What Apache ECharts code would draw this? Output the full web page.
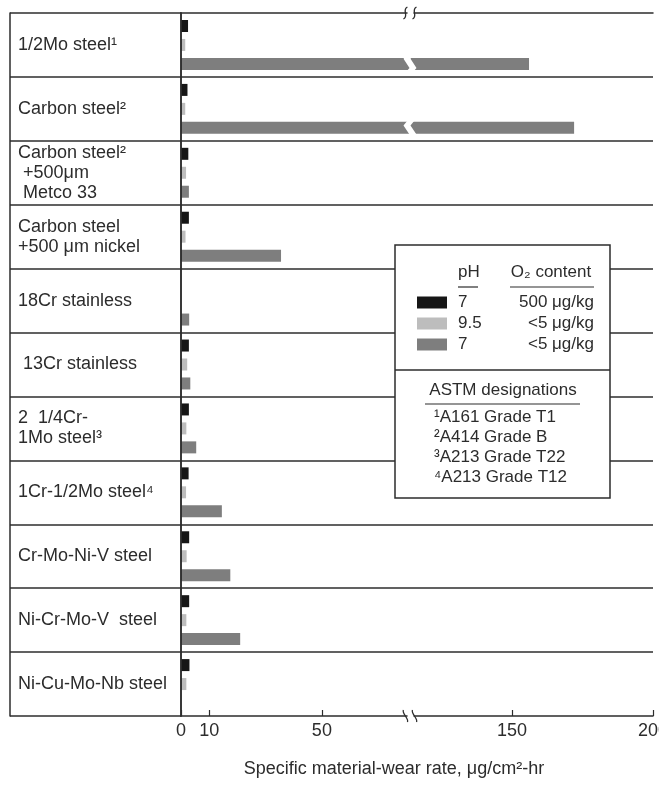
<!DOCTYPE html>
<html>
<head>
<meta charset="utf-8">
<script src="https://cdn.jsdelivr.net/npm/echarts@6/dist/echarts.min.js"></script>
<style>
  html, body { margin: 0; padding: 0; background: #ffffff; }
  #chart { width: 659px; height: 785px; }
</style>
</head>
<body>
<div id="chart"></div>
<script>
// Materials, top to bottom
const materials = [
  '1/2Mo steel¹',
  'Carbon steel²',
  'Carbon steel²\n +500μm\n Metco 33',
  'Carbon steel\n+500 μm nickel',
  '18Cr stainless',
  ' 13Cr stainless',
  '2  1/4Cr-\n1Mo steel³',
  '1Cr-1/2Mo steel⁴',
  'Cr-Mo-Ni-V steel',
  'Ni-Cr-Mo-V  steel',
  'Ni-Cu-Mo-Nb steel'
];

// Specific material-wear rate, μg/cm²-hr
const wearPh7HighO2 = [2.5, 2.3, 2.6, 2.8, null, 2.8, 2.8, 2.7, 2.9, 2.9, 3.0];
const wearPh95LowO2 = [1.5, 1.5, 1.8, 1.6, null, 2.2, 1.9, 1.8, 2.0, 1.9, 1.9];
const wearPh7LowO2  = [156, 172, 2.8, 35.5, 2.9, 3.3, 5.4, 14.5, 17.5, 21, null];

const seriesNames = ['pH 7, 500 μg/kg O₂', 'pH 9.5, <5 μg/kg O₂', 'pH 7, <5 μg/kg O₂'];
const phLevels = ['7', '9.5', '7'];
const o2Levels = ['500 μg/kg', '<5 μg/kg', '<5 μg/kg'];
const xTickValues = [0, 10, 50, 150, 200];
const astmNotes = ['¹A161 Grade T1', '²A414 Grade B', '³A213 Grade T22', '⁴A213 Grade T12'];

const INK = '#2c2c2c';
const FONT = '"Liberation Sans", Arial, Helvetica, sans-serif';
const barColors = ['#161616', '#bdbdbd', '#7e7e7e'];
const axisBreak = { start: 80, end: 115, gap: '1.5%' };

const chart = echarts.init(document.getElementById('chart'), null, { renderer: 'canvas' });

const barSeries = [wearPh7HighO2, wearPh95LowO2, wearPh7LowO2].map((values, i) => ({
  name: seriesNames[i],
  type: 'bar',
  xAxisIndex: 1,
  yAxisIndex: 1,
  data: values,
  barWidth: 12,
  barGap: '58%',
  barCategoryGap: '22%',
  itemStyle: { color: barColors[i] },
  emphasis: { disabled: true },
  z: 2
}));

// Legend panel: framed box with column heads and ASTM footnotes
const panelGraphics = [
  {
    type: 'rect', z: 10,
    shape: { x: 395, y: 245, width: 215, height: 253 },
    style: { fill: '#ffffff', stroke: INK, lineWidth: 1.5 }
  },
  { type: 'line', z: 11, shape: { x1: 395, y1: 370, x2: 610, y2: 370 }, style: { stroke: INK, lineWidth: 1.5 } },
  { type: 'text', z: 11, x: 458, y: 272, style: { text: 'pH', font: '17px ' + FONT, fill: INK, verticalAlign: 'middle' } },
  { type: 'line', z: 11, shape: { x1: 458, y1: 287, x2: 478, y2: 287 }, style: { stroke: INK, lineWidth: 1.2 } },
  { type: 'text', z: 11, x: 551, y: 272, style: { text: 'O₂ content', font: '17px ' + FONT, fill: INK, align: 'center', verticalAlign: 'middle' } },
  { type: 'line', z: 11, shape: { x1: 510, y1: 287, x2: 594, y2: 287 }, style: { stroke: INK, lineWidth: 1.2 } },
  { type: 'text', z: 11, x: 503, y: 390, style: { text: 'ASTM designations', font: '17px ' + FONT, fill: INK, align: 'center', verticalAlign: 'middle' } },
  { type: 'line', z: 11, shape: { x1: 425, y1: 404, x2: 580, y2: 404 }, style: { stroke: INK, lineWidth: 1.2 } }
].concat(astmNotes.map((t, i) => ({
  type: 'text', z: 11, x: 434, y: 417 + i * 20,
  style: { text: t, font: '17px ' + FONT, fill: INK, verticalAlign: 'middle' }
})));

chart.setOption({
  animation: false,
  backgroundColor: '#ffffff',
  textStyle: { fontFamily: FONT, color: INK },
  grid: [
    { left: 10, width: 171, top: 13, bottom: 69, show: false, containLabel: false, outerBoundsMode: 'none' },
    { left: 181, right: 6, top: 13, bottom: 69, show: false, containLabel: false, outerBoundsMode: 'none' }
  ],
  xAxis: [
    { gridIndex: 0, type: 'value', min: 0, max: 1, show: false },
    {
      gridIndex: 1,
      type: 'value',
      min: 0,
      max: 200,
      z: 3,
      breaks: [axisBreak],
      breakArea: {
        show: true,
        expandOnClick: false,
        zigzagAmplitude: 3,
        zigzagMinSpan: 6,
        zigzagMaxSpan: 10,
        zigzagZ: 3,
        itemStyle: { color: '#ffffff', borderColor: '#ffffff', borderWidth: 0, opacity: 1 }
      },
      axisLine: { show: true, lineStyle: { color: INK, width: 1.5 } },
      axisTick: { show: true, inside: true, length: 6, customValues: xTickValues, lineStyle: { color: INK, width: 1.2 } },
      axisLabel: { customValues: xTickValues, fontSize: 18, color: INK, margin: 6, fontFamily: FONT },
      splitLine: { show: false },
      name: 'Specific material-wear rate, μg/cm²-hr',
      nameLocation: 'middle',
      nameGap: 44,
      nameTextStyle: { fontSize: 18, color: INK, fontFamily: FONT, padding: [0, 46, 0, 0] }
    },
    {
      gridIndex: 1,
      type: 'value',
      position: 'top',
      min: 0,
      max: 200,
      z: 3,
      breaks: [axisBreak],
      breakArea: { show: false },
      axisLine: { show: true, lineStyle: { color: INK, width: 1.5 } },
      axisTick: { show: false },
      axisLabel: { show: false },
      splitLine: { show: false }
    }
  ],
  yAxis: [
    {
      gridIndex: 0,
      type: 'category',
      data: materials,
      inverse: true,
      z: 4,
      axisLine: { show: true, lineStyle: { color: INK, width: 1.5 } },
      axisTick: { show: false },
      axisLabel: {
        inside: true,
        align: 'left',
        margin: 8,
        fontSize: 18,
        lineHeight: 20,
        color: INK,
        fontFamily: FONT
      },
      splitLine: { show: true, lineStyle: { color: INK, width: 1.5 } }
    },
    {
      gridIndex: 1,
      type: 'category',
      data: materials,
      inverse: true,
      z: 5,
      axisLine: { show: true, lineStyle: { color: INK, width: 1.5 } },
      axisTick: { show: false },
      axisLabel: { show: false },
      splitLine: { show: true, showMinLine: false, showMaxLine: false, lineStyle: { color: INK, width: 1.5 } }
    },
    {
      gridIndex: 1,
      type: 'category',
      data: materials,
      inverse: true,
      position: 'right',
      z: 4,
      axisLine: { show: true, lineStyle: { color: INK, width: 1.5 } },
      axisTick: { show: false },
      axisLabel: { show: false },
      splitLine: { show: false }
    }
  ],
  legend: {
    left: 417,
    top: 294,
    padding: 0,
    orient: 'vertical',
    icon: 'rect',
    itemWidth: 30,
    itemHeight: 12,
    itemGap: 4,
    selectedMode: false,
    z: 12,
    data: seriesNames,
    formatter: name => {
      const i = seriesNames.indexOf(name);
      return '{p|' + phLevels[i] + '}{o|' + o2Levels[i] + '}';
    },
    textStyle: {
      fontFamily: FONT,
      color: INK,
      rich: {
        p: { width: 38, padding: [0, 0, 0, 6], fontSize: 17, lineHeight: 20, color: INK, fontFamily: FONT },
        o: { width: 98, align: 'right', fontSize: 17, lineHeight: 20, color: INK, fontFamily: FONT }
      }
    }
  },
  graphic: panelGraphics,
  series: barSeries
});

// Small curled break symbols where the value axis skips from 80 to 115,
// placed on both the bottom axis line and the top frame line.
const breakLeft = chart.convertToPixel({ xAxisIndex: 1 }, axisBreak.start);
const breakRight = chart.convertToPixel({ xAxisIndex: 1 }, axisBreak.end);
const gridRect = chart.getModel().getComponent('grid', 1).coordinateSystem.getRect();
const curl = (x, y, dir) => ({
  type: 'bezierCurve', z: 6,
  shape: { x1: x + 2 * dir, y1: y - 6, cpx1: x - 4, cpy1: y - 3, cpx2: x + 4, cpy2: y + 3, x2: x - 2 * dir, y2: y + 6 },
  style: { stroke: INK, lineWidth: 1.3, fill: null }
});
const breakMarks = [];
[gridRect.y, gridRect.y + gridRect.height].forEach((y, k) => {
  const dir = k === 0 ? 1 : -1;
  breakMarks.push(curl(breakLeft - 1, y, dir), curl(breakRight + 1, y, dir));
});
chart.setOption({ graphic: panelGraphics.concat(breakMarks) });
</script>
</body>
</html>
